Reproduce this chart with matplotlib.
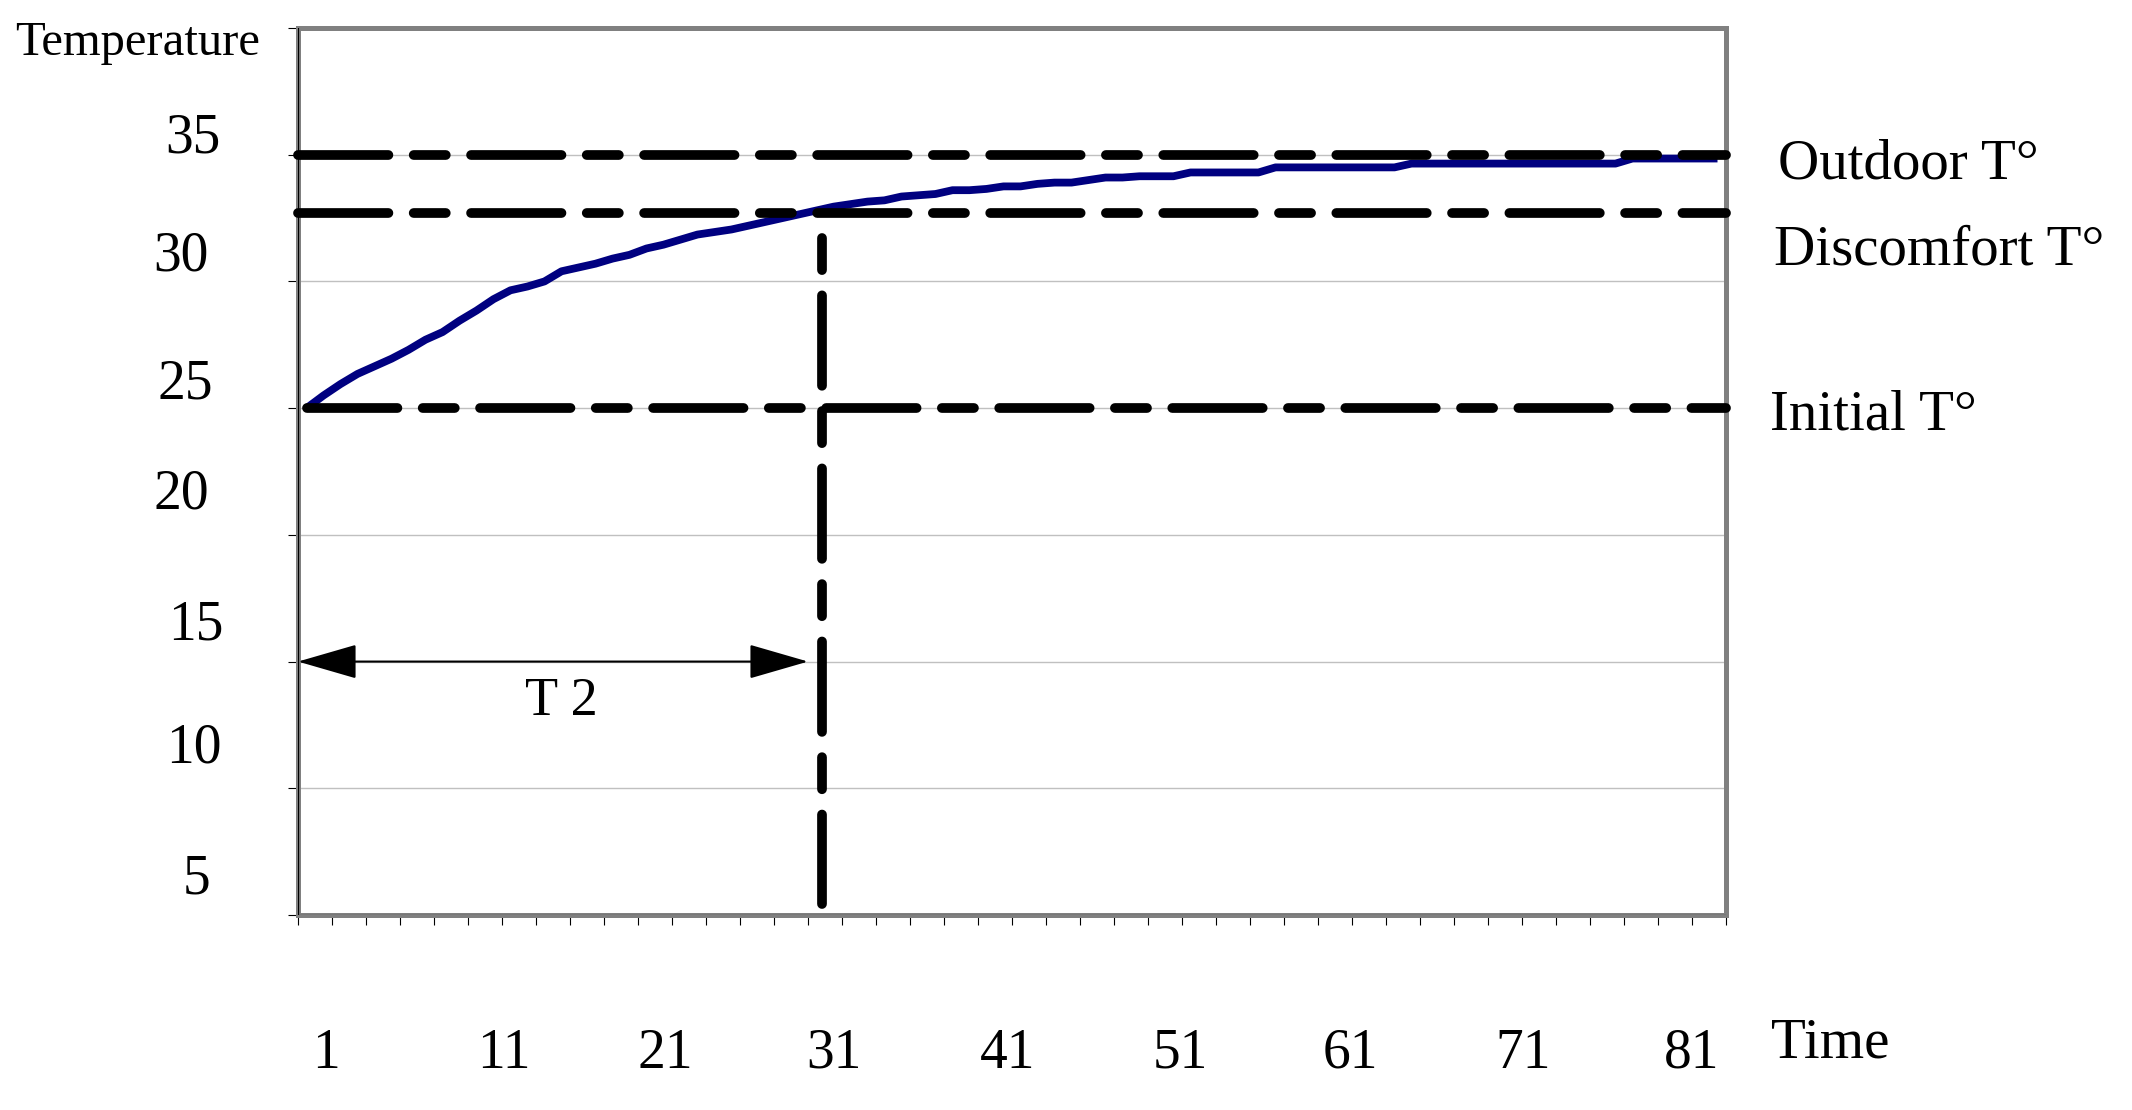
import numpy as np
import matplotlib
matplotlib.use("Agg")
import matplotlib.pyplot as plt
from matplotlib.transforms import blended_transform_factory
from matplotlib.patches import FancyArrowPatch

# ---------------- data ----------------
time = np.arange(1, 85)
temperature = [
    25.0, 25.5, 25.95, 26.35, 26.65, 26.95, 27.3, 27.7, 28.0, 28.45,
    28.85, 29.3, 29.65, 29.8, 30.0, 30.4, 30.55, 30.7, 30.9, 31.05,
    31.3, 31.45, 31.65, 31.85, 31.95, 32.05, 32.2, 32.35, 32.5, 32.65,
    32.8, 32.95, 33.05, 33.15, 33.2, 33.35, 33.4, 33.45, 33.6, 33.6,
    33.65, 33.75, 33.75, 33.85, 33.9, 33.9, 34.0, 34.1, 34.1, 34.15,
    34.15, 34.15, 34.3, 34.3, 34.3, 34.3, 34.3, 34.5, 34.5, 34.5,
    34.5, 34.5, 34.5, 34.5, 34.5, 34.65, 34.65, 34.65, 34.65, 34.65,
    34.65, 34.65, 34.65, 34.65, 34.65, 34.65, 34.65, 34.65, 34.85, 34.85,
    34.85, 34.85, 34.85, 34.85,
]
outdoor_t = 35.0
discomfort_t = 32.7
initial_t = 25.0
t2_time = 31.3
arrow_level = 15.0
arrow_end = 30.5

y_grid = [10, 15, 20, 25, 30, 35]
y_ticks = [5, 10, 15, 20, 25, 30, 35, 40]
y_label_values = [35, 30, 25, 20, 15, 10, 5]
y_labels = ["35", "30", "25", "20", "15", "10", "5"]
x_label_values = [1, 11, 21, 31, 41, 51, 61, 71, 81]
x_labels = [str(v) for v in x_label_values]
line_labels = ["Outdoor T\u00b0", "Discomfort T\u00b0", "Initial T\u00b0"]

# ---------------- style / layout ----------------
W, H = 2132, 1110
plt.rcParams["font.family"] = ["Liberation Serif", "DejaVu Serif"]
fig = plt.figure(figsize=(W / 100, H / 100), dpi=100)
L, R, T, B = 298, 1726, 28, 915
ax = fig.add_axes([L / W, 1 - B / H, (R - L) / W, (B - T) / H])
ax.set_xlim(0.5, 84.5)
ax.set_ylim(5, 40)

ax.set_yticks(y_ticks)
ax.set_xticks(np.arange(0.5, 84.6, 2))
ax.tick_params(labelleft=False, labelbottom=False, direction="out",
               length=7.2, width=0.8, color="black")
for v in y_grid:
    ax.axhline(v, color="#c0c0c0", lw=1.0, zorder=1)
for s in ax.spines.values():
    s.set_color("#808080")
    s.set_linewidth(3.6)
    s.set_zorder(2.5)
ax.axvline(0.5, color="black", lw=0.8, zorder=2.6)
ax.axhline(5, color="black", lw=0.8, zorder=2.6)

# curve
ax.plot(time, temperature, color="#000080", lw=5.6, zorder=3,
        solid_joinstyle="round", solid_capstyle="butt", clip_on=False)

# dashed reference lines
dash_lw = 7.0
hdash = (9.3, 2.6, 3.3, 2.6)
vdash = (3.3, 2.6, 9.3, 2.6)
common = dict(color="black", lw=dash_lw, dash_capstyle="round",
              clip_on=False, zorder=4)
ax.plot([0.5, 84.5], [outdoor_t, outdoor_t], dashes=hdash, **common)
ax.plot([0.5, 84.5], [discomfort_t, discomfort_t], dashes=hdash, **common)
ax.plot([1.0, 84.5], [initial_t, initial_t], dashes=hdash, **common)
ax.plot([t2_time, t2_time], [31.7, 5.43], dashes=vdash, **common)

# T2 arrow
arr = FancyArrowPatch((0.5, arrow_level), (arrow_end, arrow_level),
                      arrowstyle="<|-|>,head_length=38,head_width=11",
                      mutation_scale=1, lw=1.5, color="black",
                      shrinkA=0, shrinkB=0, zorder=5, clip_on=False)
ax.add_patch(arr)
ax.text(15.97, 12.9, "T 2", ha="center", va="baseline", fontsize=39, zorder=6)

# y labels (placed like the original text boxes)
ytrans = blended_transform_factory(fig.transFigure, ax.transData)
y_label_x = [193, 181, 185, 181, 196, 194, 196]
y_label_dy = [0.1, 0.45, 0.4, 1.03, 0.87, 1.0, 0.83]
for v, lab, xc, dy in zip(y_label_values, y_labels, y_label_x, y_label_dy):
    ax.text(xc / W, v + dy, lab, transform=ytrans, ha="center",
            va="baseline", fontsize=40)

# x labels
xtrans = blended_transform_factory(ax.transData, fig.transFigure)
x_label_dx = [1.15, 1.6, 1.1, 1.0, 1.26, 1.4, 1.4, 1.56, 1.5]
for v, lab, dx in zip(x_label_values, x_labels, x_label_dx):
    ax.text(v + dx, 1 - 1068 / H, lab, transform=xtrans, ha="center",
            va="baseline", fontsize=40)

# right-hand line labels
right_x = [1778, 1773.6, 1769.5]
right_y = [34.06, 30.67, 24.17]
for lab, xl, yb in zip(line_labels, right_x, right_y):
    ax.text(xl / W, yb, lab, transform=ytrans, ha="left", va="baseline",
            fontsize=41)

fig.text(1771 / W, 1 - 1057 / H, "Time", ha="left", va="baseline", fontsize=41)
fig.text(15.6 / W, 1 - 55 / H, "Temperature", ha="left", va="baseline",
         fontsize=35)

fig.savefig("out.png", dpi=100, facecolor="white")
